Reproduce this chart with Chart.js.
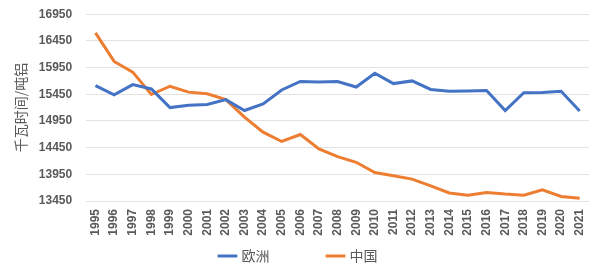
<!DOCTYPE html>
<html>
<head>
<meta charset="utf-8">
<script src="https://cdn.jsdelivr.net/npm/chart.js@4"></script>
<style>
  html, body { margin: 0; padding: 0; background: #fff; }
  #wrap { width: 607px; height: 277px; }
</style>
</head>
<body>
<div id="wrap"><canvas id="energyChart"></canvas></div>
<script>
const years = ['1995','1996','1997','1998','1999','2000','2001','2002','2003','2004','2005','2006','2007','2008','2009','2010','2011','2012','2013','2014','2015','2016','2017','2018','2019','2020','2021'];
const europe = [15610,15440,15630,15550,15200,15245,15260,15350,15145,15270,15530,15690,15680,15690,15585,15845,15650,15700,15540,15505,15510,15520,15145,15480,15485,15505,15135];
const china = [16600,16065,15865,15445,15600,15490,15460,15350,15020,14740,14565,14695,14425,14280,14175,13985,13925,13860,13735,13600,13560,13610,13580,13560,13660,13535,13500];
const yTicks = [13450,13950,14450,14950,15450,15950,16450,16950];

function drawChart() {
    const ctx = document.getElementById('energyChart').getContext('2d');
    const tickFont = { family: 'Liberation Sans, Arial, sans-serif', size: 12, weight: 'bold' };
    new Chart(ctx, {
        type: 'line',
        data: {
            labels: years,
            datasets: [{
                // trailing spaces widen the gap between the two legend items
                label: '欧洲\u2003\u2003\u2003\u2002',
                data: europe,
                borderColor: '#4472C4',
                backgroundColor: '#4472C4',
                borderWidth: 3,
                pointRadius: 0,
                tension: 0
            }, {
                label: '中国',
                data: china,
                borderColor: '#ED7D31',
                backgroundColor: '#ED7D31',
                borderWidth: 3,
                pointRadius: 0,
                tension: 0
            }]
        },
        options: {
            responsive: true,
            maintainAspectRatio: false,
            animation: false,
            layout: { padding: { left: 9, right: 18, top: 0, bottom: 4 } },
            plugins: {
                legend: {
                    position: 'bottom',
                    labels: {
                        usePointStyle: true,
                        pointStyle: 'line',
                        boxWidth: 24,
                        padding: 10,
                        color: '#595959',
                        font: { family: 'Noto Sans CJK SC, sans-serif', size: 14 }
                    }
                },
                tooltip: { enabled: false }
            },
            scales: {
                x: {
                    offset: true,
                    grid: { display: false, drawTicks: false },
                    border: { display: false },
                    afterFit: axis => { axis.height = 38; },
                    ticks: {
                        color: '#595959',
                        font: tickFont,
                        padding: 8,
                        minRotation: 90,
                        maxRotation: 90,
                        autoSkip: false
                    }
                },
                y: {
                    min: 13450,
                    max: 16950,
                    afterBuildTicks: axis => { axis.ticks = yTicks.map(v => ({ value: v })); },
                    grid: { color: '#e3e3e3', lineWidth: 1, drawTicks: true, tickLength: 7, tickColor: 'rgba(0,0,0,0)' },
                    border: { display: false },
                    ticks: {
                        color: '#595959',
                        font: tickFont,
                        padding: 7,
                        callback: v => String(v)
                    },
                    title: {
                        display: true,
                        text: '千瓦时间/吨铝',
                        color: '#595959',
                        font: { family: 'Noto Sans CJK SC, sans-serif', size: 14 },
                        padding: 3
                    }
                }
            }
        }
    });
}

document.addEventListener('DOMContentLoaded', drawChart);
</script>
</body>
</html>
